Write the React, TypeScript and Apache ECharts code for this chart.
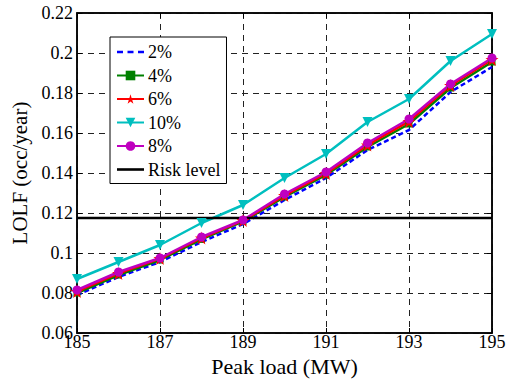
import React, { useEffect, useRef } from "react";
import * as echarts from "echarts";

const peakLoad = [185, 186, 187, 188, 189, 190, 191, 192, 193, 194, 195];
const lolf2 = [0.079, 0.088, 0.0955, 0.1055, 0.1145, 0.1265, 0.1375, 0.1515, 0.1615, 0.1805, 0.193];
const lolf4 = [0.08, 0.089, 0.0965, 0.1068, 0.1158, 0.128, 0.139, 0.153, 0.1645, 0.1825, 0.1955];
const lolf6 = [0.0808, 0.0898, 0.0972, 0.1075, 0.1162, 0.1288, 0.1398, 0.154, 0.1658, 0.1838, 0.1968];
const lolf10 = [0.087, 0.0955, 0.104, 0.115, 0.124, 0.1375, 0.1495, 0.1655, 0.177, 0.196, 0.2095];
const lolf8 = [0.0815, 0.0905, 0.0975, 0.108, 0.1165, 0.1295, 0.1405, 0.155, 0.167, 0.1845, 0.1975];
const riskLevel = 0.1175;

const FONT = "'Liberation Serif', 'Times New Roman', serif";

export default function App() {
  const ref = useRef<HTMLDivElement>(null);
  useEffect(() => {
    if (!ref.current) return;
    const chart = echarts.init(ref.current, null, { renderer: "svg" });
    const pairs = (ys: number[]) => peakLoad.map((x, i) => [x, ys[i]]);
    const fmtY = (v: number) => String(parseFloat(v.toFixed(4)));
    const splitLine = { show: true, lineStyle: { color: "#222", type: [6, 5], width: 1 } };
    const dashedIcon = "path://M0,0 L6,0 L6,2.5 L0,2.5 Z M10.5,0 L16.5,0 L16.5,2.5 L10.5,2.5 Z M21,0 L27,0 L27,2.5 L21,2.5 Z";
    const solidIcon = "path://M0,0 L27,0 L27,2.6 L0,2.6 Z";
    chart.setOption({
      animation: false,
      textStyle: { fontFamily: FONT },
      grid: { left: 77, right: 18, top: 13, bottom: 50, show: true, borderColor: "#000", borderWidth: 1.5, backgroundColor: "#fff" },
      legend: {
        orient: "vertical",
        left: 110,
        top: 37,
        backgroundColor: "#fff",
        borderColor: "#000",
        borderWidth: 1,
        borderRadius: 0,
        padding: [6, 6, 5, 6],
        itemWidth: 27,
        itemHeight: 12,
        itemGap: 5.5,
        textStyle: { fontFamily: FONT, fontSize: 18, color: "#000", padding: [0, 0, 0, -1] },
        data: [
          { name: "2%", icon: dashedIcon },
          "4%",
          "6%",
          "10%",
          "8%",
          { name: "Risk level", icon: solidIcon },
        ],
      },
      xAxis: [
        {
          type: "value",
          min: 185,
          max: 195,
          interval: 2,
          name: "Peak load (MW)",
          nameLocation: "middle",
          nameGap: 20,
          nameTextStyle: { fontFamily: FONT, fontSize: 22, color: "#000" },
          axisLine: { show: true, onZero: false, lineStyle: { color: "#000", width: 1.5 } },
          axisTick: { show: true, inside: true, length: 5, lineStyle: { color: "#000" } },
          axisLabel: { fontFamily: FONT, fontSize: 18, color: "#000", margin: 0 },
          splitLine,
        },
        {
          type: "value",
          position: "top",
          min: 185,
          max: 195,
          interval: 2,
          axisLine: { show: true, lineStyle: { color: "#000", width: 1.5 } },
          axisTick: { show: true, inside: true, length: 5, lineStyle: { color: "#000" } },
          axisLabel: { show: false },
          splitLine: { show: false },
        },
      ],
      yAxis: [
        {
          type: "value",
          min: 0.06,
          max: 0.22,
          interval: 0.02,
          name: "LOLF (occ/year)",
          nameLocation: "middle",
          nameGap: 43,
          nameTextStyle: { fontFamily: FONT, fontSize: 21, color: "#000" },
          axisLine: { show: true, onZero: false, lineStyle: { color: "#000", width: 1.5 } },
          axisTick: { show: true, inside: true, length: 5, lineStyle: { color: "#000" } },
          axisLabel: { fontFamily: FONT, fontSize: 18, color: "#000", margin: 4, formatter: fmtY },
          splitLine,
        },
        {
          type: "value",
          position: "right",
          min: 0.06,
          max: 0.22,
          interval: 0.02,
          axisLine: { show: true, lineStyle: { color: "#000", width: 1.5 } },
          axisTick: { show: true, inside: true, length: 5, lineStyle: { color: "#000" } },
          axisLabel: { show: false },
          splitLine: { show: false },
        },
      ],
      series: [
        {
          name: "2%",
          type: "line",
          data: pairs(lolf2),
          symbol: "none",
          lineStyle: { color: "#0000ff", width: 2.5, type: [5, 3] },
          itemStyle: { color: "#0000ff" },
        },
        {
          name: "4%",
          type: "line",
          data: pairs(lolf4),
          symbol: "rect",
          symbolSize: 7,
          lineStyle: { color: "#008000", width: 2.5 },
          itemStyle: { color: "#008000" },
        },
        {
          name: "6%",
          type: "line",
          data: pairs(lolf6),
          symbol: "path://M50,0 L61,35 L98,35 L68,57 L79,91 L50,70 L21,91 L32,57 L2,35 L39,35 Z",
          symbolSize: 13,
          lineStyle: { color: "#ff0000", width: 2.5 },
          itemStyle: { color: "#ff0000" },
        },
        {
          name: "10%",
          type: "line",
          data: pairs(lolf10),
          symbol: "triangle",
          symbolRotate: 180,
          symbolSize: 10,
          lineStyle: { color: "#00bfbf", width: 2.5 },
          itemStyle: { color: "#00bfbf" },
        },
        {
          name: "8%",
          type: "line",
          data: pairs(lolf8),
          symbol: "circle",
          symbolSize: 9,
          lineStyle: { color: "#bf00bf", width: 2.5 },
          itemStyle: { color: "#bf00bf" },
        },
        {
          name: "Risk level",
          type: "line",
          data: [
            [peakLoad[0], riskLevel],
            [peakLoad[peakLoad.length - 1], riskLevel],
          ],
          symbol: "none",
          lineStyle: { color: "#000", width: 2.5 },
          itemStyle: { color: "#000" },
        },
      ],
    });
    return () => chart.dispose();
  }, []);
  return <div ref={ref} style={{ width: 510, height: 383, position: "absolute", left: 0, top: 0 }} />;
}
